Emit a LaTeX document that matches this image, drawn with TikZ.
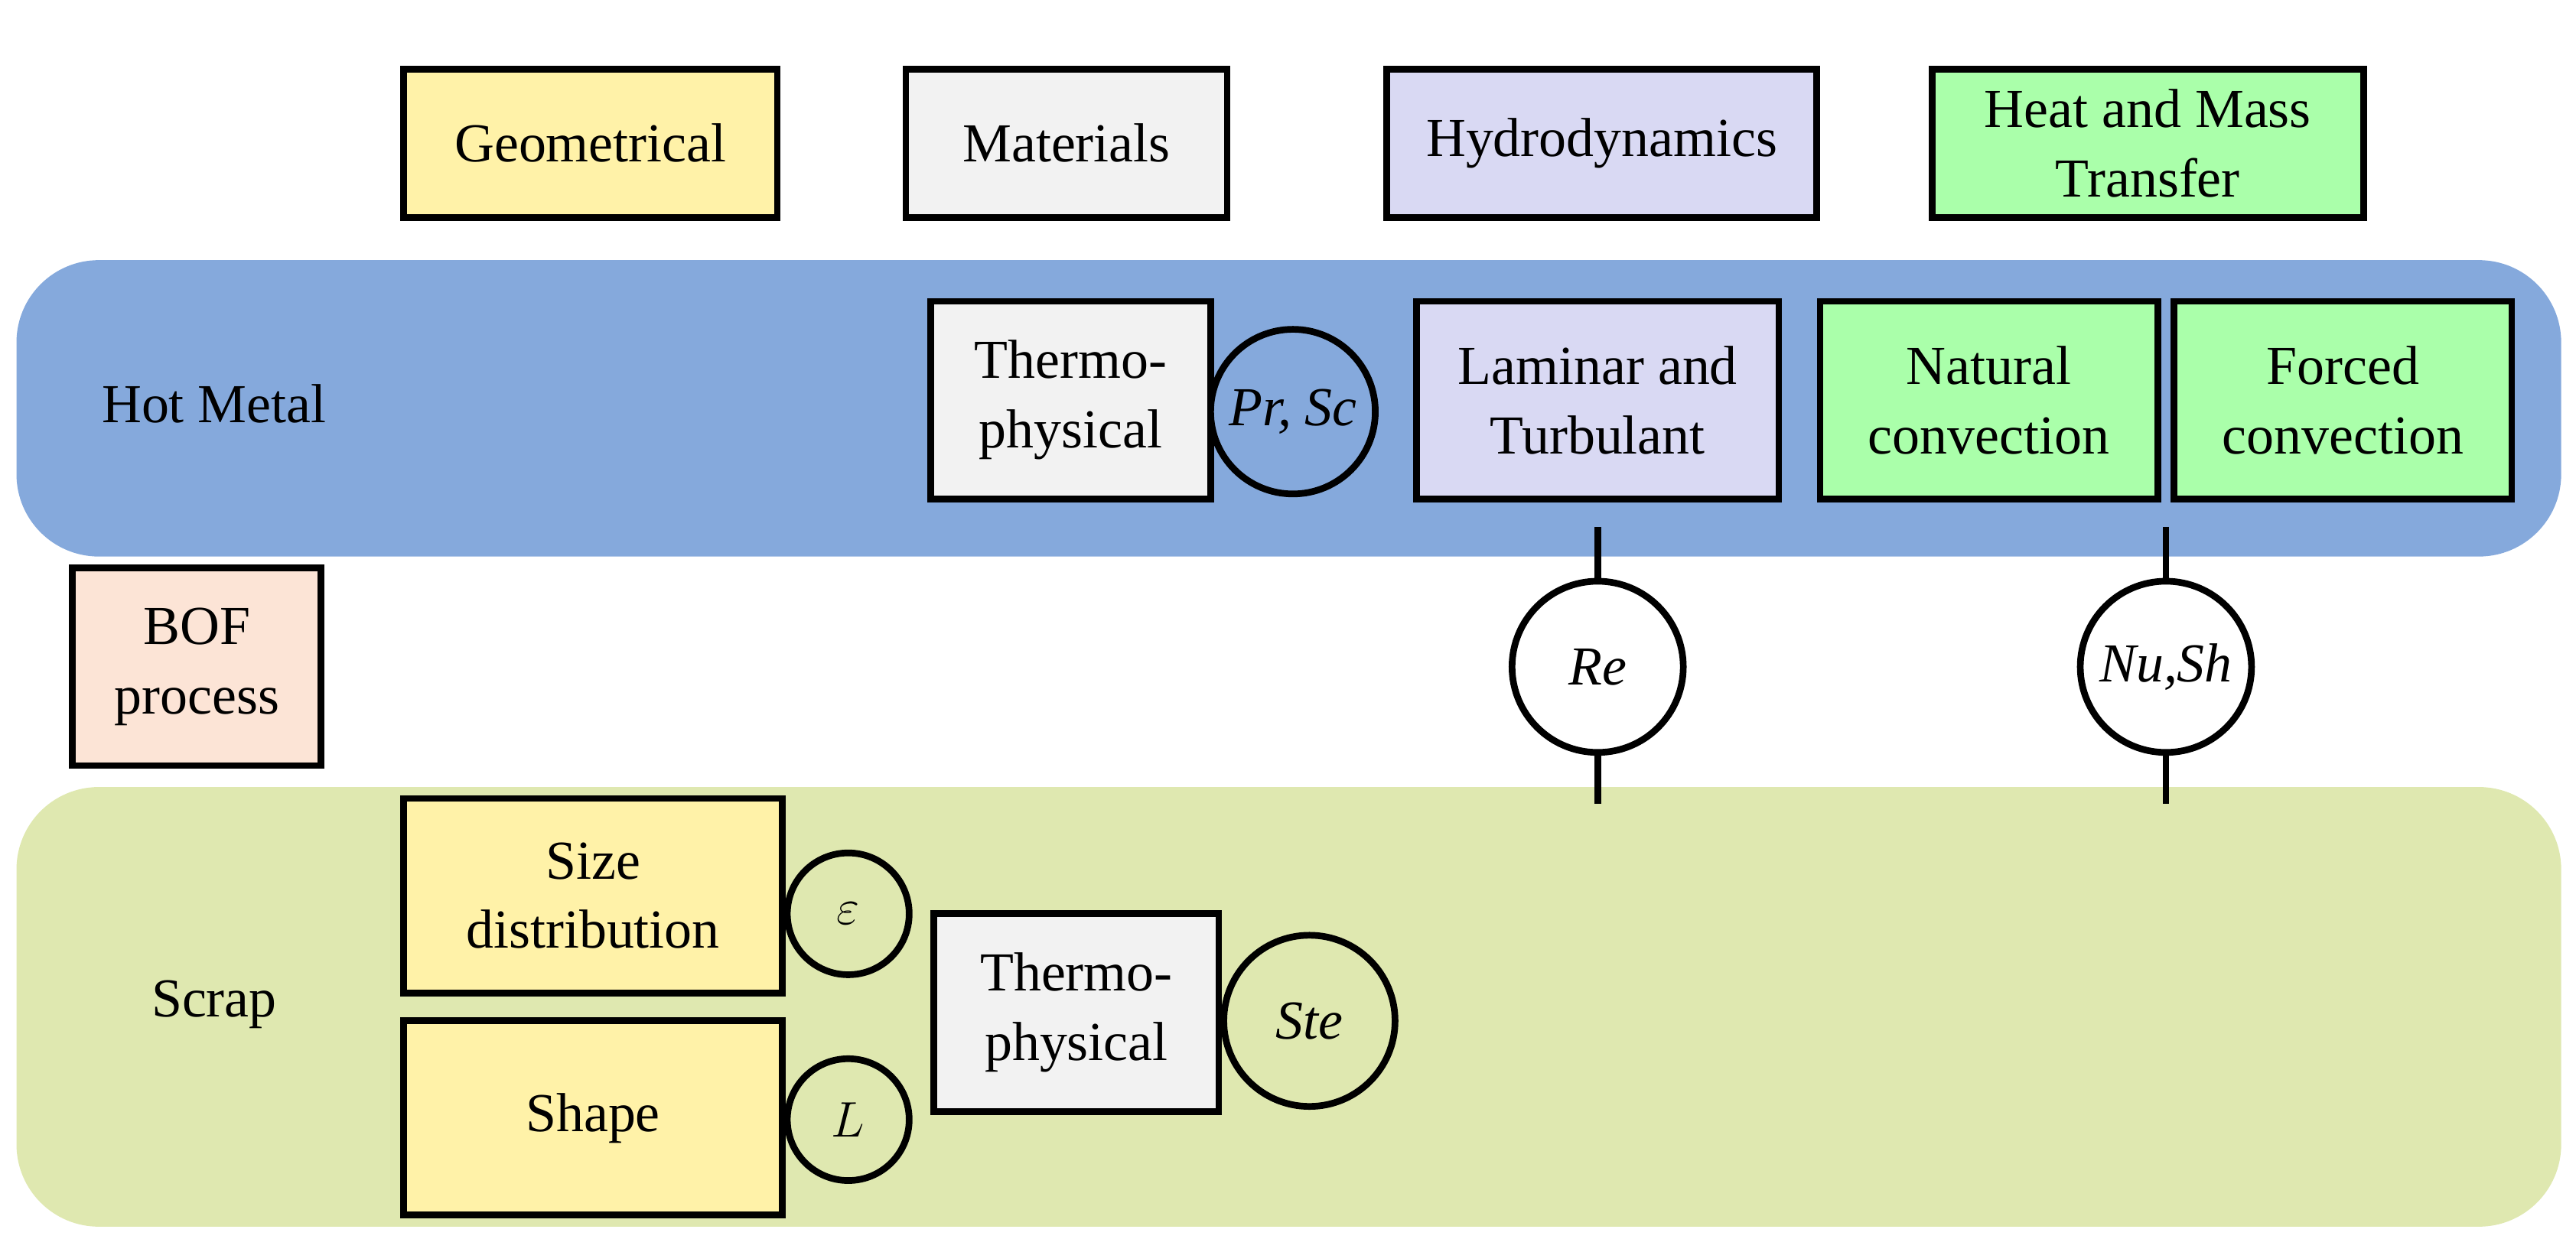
\documentclass[tikz,border=0pt]{standalone}
\usepackage{fontspec}
\setmainfont{Liberation Serif}
\begin{document}
\begin{tikzpicture}[x=0.02cm,y=-0.02cm,
 box/.style={draw=black,line width=2.3pt,align=center,inner sep=0pt,font=\fontsize{19}{24}\selectfont},
 circ/.style={draw=black,circle,line width=2.3pt,inner sep=0pt,font=\fontsize{19}{24}\selectfont\itshape},
 ln/.style={line width=2.3pt},
 lbl/.style={font=\fontsize{19}{24}\selectfont}]
\definecolor{cY}{HTML}{FFF2A8}\definecolor{cG}{HTML}{F2F2F2}
\definecolor{cL}{HTML}{D9D9F3}\definecolor{cN}{HTML}{AAFFAA}
\definecolor{cB}{HTML}{85A9DC}\definecolor{cS}{HTML}{DFE8B0}\definecolor{cO}{HTML}{FCE4D6}
\useasboundingbox (0,0) rectangle (1564,760);
\fill[cB,rounded corners=1cm] (10,158) rectangle (1555,338);
\fill[cS,rounded corners=1cm] (10,478) rectangle (1555,745);
\node[lbl] (hm) at (130,245) {Hot Metal};
\node[lbl] (sc) at (130,610) {Scrap};
\newcommand{\bx}[6]{\node[box,fill=#6,minimum width={(#3-#2)*0.02cm},minimum height={(#5-#4)*0.02cm}] (#1) at ({(#2+#3)/2},{(#4+#5)/2})}
\bx{geo}{245}{472}{42}{132}{cY}{Geometrical};
\bx{mat}{550}{745}{42}{132}{cG}{Materials};
\bx{hyd}{842}{1103}{42}{132}{cL}{Hydrodynamics};
\bx{hmt}{1173}{1435}{42}{132}{cN}{Heat and Mass\\Transfer};
\bx{th1}{565}{735}{183}{303}{cG}{Thermo-\\physical};
\bx{lam}{860}{1080}{183}{303}{cL}{Laminar and\\Turbulant};
\bx{nat}{1105}{1310}{183}{303}{cN}{Natural\\convection};
\bx{for}{1320}{1525}{183}{303}{cN}{Forced\\convection};
\bx{bof}{44}{195}{345}{465}{cO}{BOF\\process};
\bx{siz}{245}{475}{485}{603}{cY}{Size\\distribution};
\bx{shp}{245}{475}{620}{738}{cY}{Shape};
\bx{th2}{567}{740}{555}{675}{cG}{Thermo-\\physical};
\node[circ,fill=cB,minimum size=2cm] (pr) at (785,250) {Pr, Sc};
\node[circ,fill=white,minimum size=2.08cm] (re) at (970,405) {Re};
\node[circ,fill=white,minimum size=2.08cm] (nu) at (1315,405) {Nu,Sh};
\node[circ,fill=cS,minimum size=1.48cm] (eps) at (515,555) {$\varepsilon$};
\node[circ,fill=cS,minimum size=1.48cm] (L) at (515,680) {$L$};
\node[circ,fill=cS,minimum size=2.08cm] (ste) at (795,620) {Ste};
\coordinate (a1) at (970,320); \coordinate (a2) at (970,488);
\coordinate (b1) at (1315,320); \coordinate (b2) at (1315,488);
\draw[ln] (a1) -- (re.north); \draw[ln] (re.south) -- (a2);
\draw[ln] (b1) -- (nu.north); \draw[ln] (nu.south) -- (b2);
\end{tikzpicture}
\end{document}
